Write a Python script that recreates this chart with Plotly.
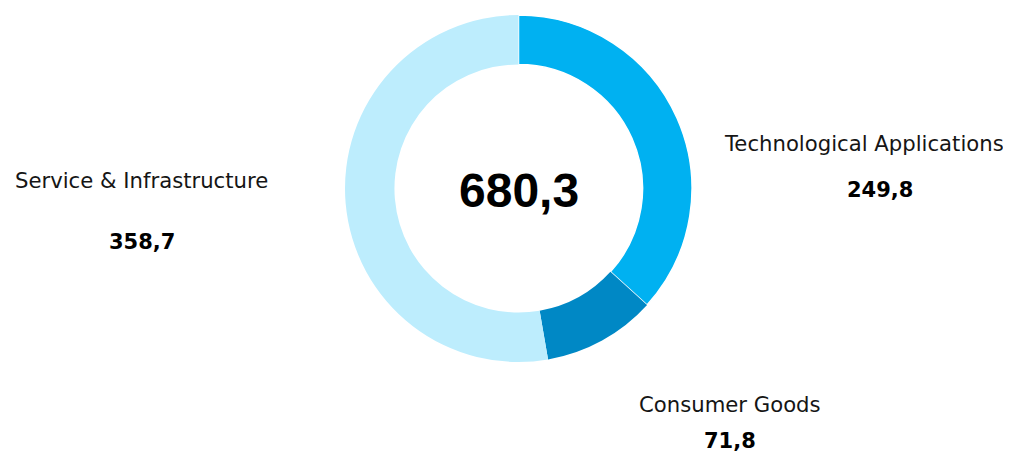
import plotly.graph_objects as go

categories = ["Technological Applications", "Consumer Goods", "Service & Infrastructure"]
values = [249.8, 71.8, 358.7]
colors = ["#00B1F1", "#0088C5", "#BDEDFD"]

OFF = 8  # page body margin offset compensation (px)
W, H = 1011 - OFF, 454 - OFF

def fmt(v):
    return f"{v:.1f}".replace(".", ",")

def px(x):
    return (x - OFF) / W

def py(y):
    return 1 - (y - OFF) / H

total = round(sum(values), 1)

fig = go.Figure(go.Pie(
    labels=categories,
    values=values,
    hole=0.715,
    sort=False,
    direction="clockwise",
    rotation=0,
    textinfo="none",
    marker=dict(colors=colors, line=dict(color="white", width=[1.5, 0, 0])),
    domain=dict(x=[px(345), px(692)], y=[py(362), py(15)]),
    showlegend=False,
))

# label positions (pixel centres) for name and value of each category
name_pos = [(864, 143), (730, 404), (141, 180)]
value_pos = [(880, 190), (730, 441), (142, 242)]

FONT = "DejaVu Sans, sans-serif"
BFONT = "Liberation Sans, Arial, sans-serif"
ann = []
for cat, v, (nx, ny), (vx, vy) in zip(categories, values, name_pos, value_pos):
    ann.append(dict(x=px(nx), y=py(ny), xref="paper", yref="paper", text=cat,
                    showarrow=False, font=dict(family=FONT, size=21.2, color="#151515"),
                    xanchor="center", yanchor="middle"))
    ann.append(dict(x=px(vx), y=py(vy), xref="paper", yref="paper", text=f"<b>{fmt(v)}</b>",
                    showarrow=False, font=dict(family=FONT, size=21, color="#000000"),
                    xanchor="center", yanchor="middle"))
ann.append(dict(x=px(518.5), y=py(191), xref="paper", yref="paper", text=f"<b>{fmt(total)}</b>",
                showarrow=False, font=dict(family=BFONT, size=48, color="#000000"),
                xanchor="center", yanchor="middle"))

fig.update_layout(
    width=W, height=H,
    margin=dict(l=0, r=0, t=0, b=0),
    paper_bgcolor="white", plot_bgcolor="white",
    annotations=ann,
)

fig.write_html("out.html")
